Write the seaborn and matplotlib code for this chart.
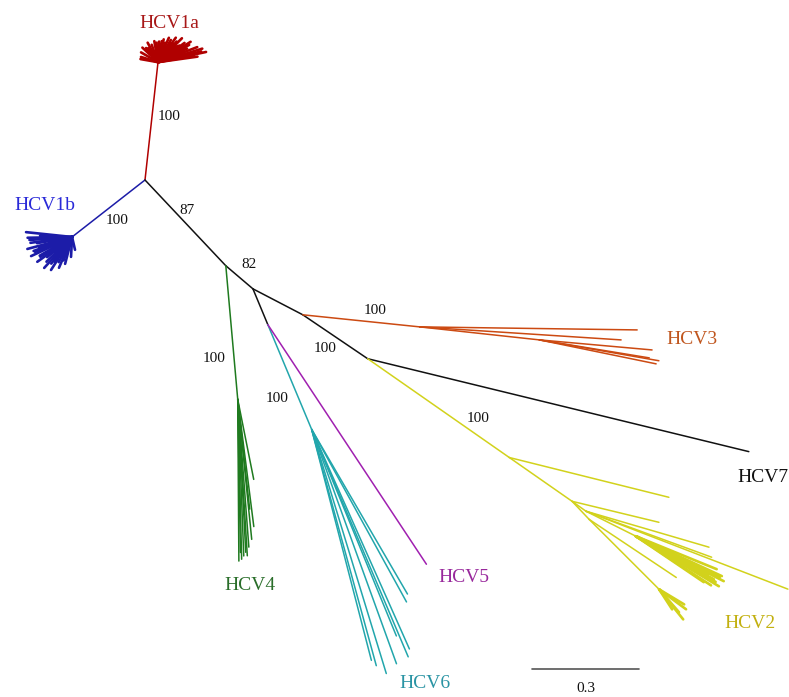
import numpy as np
import pandas as pd
import seaborn as sns
import matplotlib.pyplot as plt

# backbone of the unrooted tree: child node, parent, branch length (subst./site), drawing angle (deg)
bb_node   = ["n1a", "n1b", "A", "G4", "B", "E", "F", "tip5", "C", "r1", "r2", "D", "tip7",
             "Y1", "Y2", "Y3", "Y4", "Y5", "Y6"]
bb_parent = ["root", "root", "root", "A", "A", "B", "E", "E", "B", "C", "r1", "C", "D",
             "D", "Y1", "Y2", "Y3", "Y2", "Y5"]
bb_len    = [0.333, 0.260, 0.331, 0.377, 0.100, 0.109, 0.319, 0.807, 0.158, 0.330, 0.338, 0.220, 1.102,
             0.485, 0.215, 0.048, 0.157, 0.070, 0.278]
bb_angle  = [83.7, 218.0, -46.7, -84.9, -40.4, -67.4, -67.3, -56.5, -27.5, -5.9, -6.2, -34.1, -13.7,
             -34.9, -34.9, -35.5, -26.6, -46.6, -45.0]
bb_clade  = ["HCV1a", "HCV1b", "bb", "HCV4", "bb", "bb", "HCV6", "HCV5", "bb", "HCV3", "HCV3", "bb", "HCV7",
             "HCV2", "HCV2", "HCV2", "HCV2", "HCV2", "HCV2"]

# terminal branches of each genotype cluster
h1a_len = [0.055, 0.050, 0.060, 0.062, 0.060, 0.058, 0.066, 0.072, 0.085, 0.078, 0.092, 0.100, 0.118,
           0.138, 0.125, 0.103, 0.080, 0.070, 0.075, 0.055, 0.052, 0.050, 0.112, 0.108, 0.095,
           0.090, 0.086, 0.082, 0.076, 0.068, 0.064, 0.058, 0.060, 0.056, 0.052, 0.048, 0.130]
h1a_ang = [150, 163, 137, 118, 100, 87, 76, 60, 54, 48, 36, 29, 21,
           12, 14, 10, 23, 40, 66, 95, 130, 170, 8, 32, 45,
           25, 27, 33, 38, 50, 57, 70, 80, 90, 110, 125, 17]

h1b_len = [0.130, 0.120, 0.130, 0.127, 0.120, 0.117, 0.110, 0.094, 0.078, 0.056, 0.037,
           0.097, 0.090, 0.065, 0.100, 0.105, 0.095, 0.080, 0.090, 0.115,
           0.125, 0.118, 0.112, 0.105, 0.100, 0.085, 0.070]
h1b_ang = [174, 184, 195, 205, 215.5, 228, 237.5, 247, 255.5, 267, 283,
           197, 219, 220, 190, 210, 232, 242, 178, 200,
           181, 188, 202, 212, 224, 235, 250]

h4_len = [0.454, 0.449, 0.440, 0.430, 0.416, 0.395, 0.360, 0.229, 0.310, 0.440, 0.430]
h4_ang = [-89.6, -88.6, -87.8, -87.0, -85.7, -84.3, -82.8, -78.7, -83.8, -86.5, -89.0]

h6_len = [0.535, 0.553, 0.675, 0.694, 0.700, 0.717, 0.688, 0.670, 0.627]
h6_ang = [-59.8, -61.2, -66.0, -67.0, -70.1, -73.0, -74.7, -75.5, -67.7]

h3_parent = ["r1", "r1", "r2", "r2", "r2", "r2"]
h3_len    = [0.611, 0.567, 0.318, 0.341, 0.335, 0.313]
h3_ang    = [-0.8, -3.7, -5.1, -9.9, -11.6, -9.3]

h2_parent = ["Y1", "Y2", "Y3", "Y3", "Y3", "Y4", "Y4", "Y4", "Y4", "Y4", "Y4", "Y4", "Y4",
             "Y4", "Y4", "Y4", "Y5", "Y6", "Y6", "Y6", "Y6", "Y6"]
h2_len    = [0.462, 0.251, 0.360, 0.376, 0.608, 0.266, 0.272, 0.250, 0.230, 0.245, 0.230, 0.277, 0.252,
             0.262, 0.258, 0.240, 0.294, 0.082, 0.108, 0.085, 0.067, 0.094]
h2_ang    = [-14.0, -13.6, -16.3, -20.1, -21.1, -24.9, -31.1, -28.9, -27.5, -22.2, -34.1, -27.1, -33.2,
             -26.0, -29.8, -30.5, -33.7, -31.0, -51.3, -49.0, -57.0, -36.5]

# bootstrap support values
boot_vals = ["100", "100", "87", "82", "100", "100", "100", "100", "100"]
scale_len = 0.3

colors = {"bb": "#111111", "HCV7": "#111111", "HCV1a": "#b00000", "HCV1b": "#1c1ca8",
          "HCV2": "#d2d21c", "HCV3": "#cc4a12", "HCV4": "#1f7a1f", "HCV5": "#a020b0",
          "HCV6": "#22a6ac"}
label_colors = {"HCV1a": "#a81818", "HCV1b": "#2a2ad8", "HCV2": "#c2b010", "HCV3": "#c0561e",
                "HCV4": "#2a6e2a", "HCV5": "#98289c", "HCV6": "#2a94a4", "HCV7": "#111111"}

# ---- lay out the tree ----
pos = {"root": (0.0, 0.0)}
rows = []
eid = 0


def add_edge(child, parent, length, ang, clade, kind="branch"):
    global eid
    x0, y0 = pos[parent]
    a = np.deg2rad(ang)
    x1, y1 = x0 + length * np.cos(a), y0 + length * np.sin(a)
    pos[child] = (x1, y1)
    rows.append((eid, x0, y0, clade, kind))
    rows.append((eid, x1, y1, clade, kind))
    eid += 1


for n, p, l, a, c in zip(bb_node, bb_parent, bb_len, bb_angle, bb_clade):
    add_edge(n, p, l, a, c)
for i, (l, a) in enumerate(zip(h1a_len, h1a_ang)):
    add_edge(f"t1a{i}", "n1a", l, a, "HCV1a", "bush")
for i, (l, a) in enumerate(zip(h1b_len, h1b_ang)):
    add_edge(f"t1b{i}", "n1b", l, a, "HCV1b", "bush")
for i, (l, a) in enumerate(zip(h4_len, h4_ang)):
    add_edge(f"t4{i}", "G4", l, a, "HCV4")
for i, (l, a) in enumerate(zip(h6_len, h6_ang)):
    add_edge(f"t6{i}", "F", l, a, "HCV6")
for i, (p, l, a) in enumerate(zip(h3_parent, h3_len, h3_ang)):
    add_edge(f"t3{i}", p, l, a, "HCV3")
for i, (p, l, a) in enumerate(zip(h2_parent, h2_len, h2_ang)):
    add_edge(f"t2{i}", p, l, a, "HCV2", "bush" if p in ("Y4", "Y6") else "branch")

df = pd.DataFrame(rows, columns=["edge", "x", "y", "clade", "kind"])

# pixel -> data helper for placing labels (root sits at pixel 145,180)
S = 356.0


def px(x, y):
    return (x - 145) / S, (180 - y) / S


sns.set_style("white")
fig = plt.figure(figsize=(7.89, 6.97), dpi=100)
ax = fig.add_axes([0, 0, 1, 1])
sns.lineplot(data=df, x="x", y="y", units="edge", estimator=None, hue="clade",
             palette=colors, size="kind", sizes={"branch": 1.1, "bush": 1.9},
             sort=False, legend=False, ax=ax)

ax.set_xlim(px(0, 0)[0], px(789, 0)[0])
ax.set_ylim(px(0, 697)[1], px(0, 0)[1])
ax.set_aspect("equal", adjustable="box")
ax.axis("off")

serif = ["Liberation Serif", "DejaVu Serif"]

# genotype labels
clade_lab = [("HCV1a", 169, 23, "center"), ("HCV1b", 45, 206, "center"), ("HCV3", 692, 340, "center"),
             ("HCV7", 737, 477, "left"), ("HCV2", 750, 624, "center"), ("HCV4", 250, 585, "center"),
             ("HCV5", 464, 578, "center"), ("HCV6", 425, 683, "center")]
for name, lx, ly, ha in clade_lab:
    ax.text(*px(lx, ly), name, color=label_colors[name], fontsize=14, family=serif,
            ha=ha, va="center")

boot_pos = [(169, 116), (117, 221), (187, 210), (249, 265), (375, 310), (325, 349),
            (214, 359), (277, 398), (478, 419)]
for v, (bx, by) in zip(boot_vals, boot_pos):
    ax.text(*px(bx, by), v, fontsize=11, family=serif, color="#111111", ha="center", va="center")

# scale bar
sx, sy = px(532, 669)
ax.plot([sx, sx + scale_len], [sy, sy], color="#555555", lw=1.2)
ax.text(sx + scale_len / 2, px(0, 688)[1], f"{scale_len}", fontsize=11, family=serif,
        ha="center", va="center", color="#111111")

fig.savefig("out.png", dpi=100)
